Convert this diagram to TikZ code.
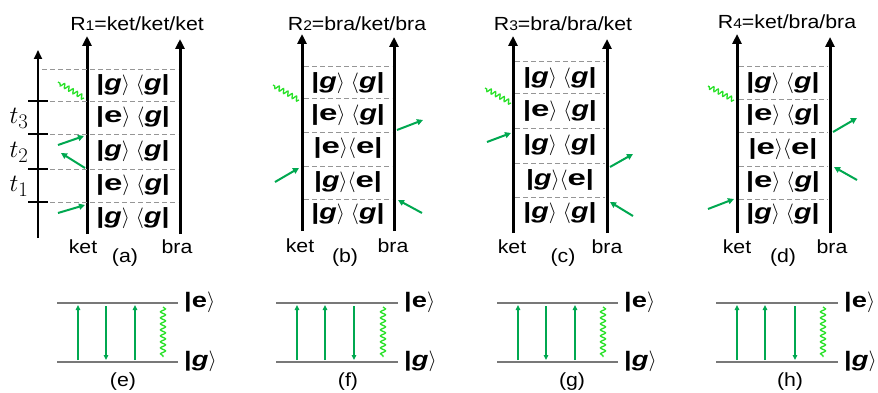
\documentclass[tikz,border=0pt]{standalone}
\usepackage{fontspec}
\setmainfont[FakeStretch=1.12]{Liberation Sans}
\newfontfamily\rowfont[FakeStretch=1.3]{Liberation Sans}
\newfontfamily\efont[FakeStretch=1.5]{Liberation Sans}
\usetikzlibrary{arrows.meta,decorations.pathmorphing}
\definecolor{grn}{RGB}{0,168,80}
\definecolor{lime}{RGB}{40,225,40}
\definecolor{dgray}{RGB}{150,150,150}
\definecolor{lgray}{RGB}{120,120,120}
\newcommand{\kbG}{\textit{g}}
\newcommand{\kbE}{{\efont e}}
\newcommand{\kbx}[3]{\textbf{|#1}\(\rangle\)#3\(\langle\)\textbf{#2|}}
\newcommand{\kbsp}{\hspace{6pt}}
\begin{document}
\begin{tikzpicture}[x=1pt,y=-1pt,
  axis/.style={line width=3pt,-{Triangle[length=10pt,width=9pt]}},
  taxis/.style={line width=2pt,-{Triangle[length=9pt,width=8pt]}},
  dashln/.style={dgray,line width=0.9pt,dash pattern=on 5pt off 3pt},
  rowtxt/.style={font=\rowfont\fontsize{22}{24}\selectfont,inner sep=0pt},
  lab/.style={font=\fontsize{19}{21}\selectfont,inner sep=0pt},
  title/.style={font=\fontsize{19}{21}\selectfont,inner sep=0pt},
  garrow/.style={grn,line width=2pt,-{Triangle[length=6pt,width=6pt]}},
  wavy/.style={lime,line width=1.3pt,decorate,decoration={snake,amplitude=2.2pt,segment length=5pt}},
  lvl/.style={lgray,line width=1.5pt},
  varrow/.style={grn,line width=1.6pt,-{Triangle[length=5pt,width=4.5pt]}},
  vwavy/.style={lime,line width=1.3pt,decorate,decoration={snake,amplitude=2.5pt,segment length=6pt}},
  lvltxt/.style={font=\rowfont\fontsize{21}{23}\selectfont\bfseries,inner sep=0pt,anchor=west},
  tlab/.style={font=\fontsize{28}{30}\selectfont,inner sep=0pt}
]
\useasboundingbox (0,0) rectangle (878,393);

% ================= panel (a)
\coordinate (ta0) at (38,238); \coordinate (ta1) at (38,50);
\draw[taxis] (ta0) -- (ta1);
\coordinate (ak0) at (87,234); \coordinate (ak1) at (87,36);
\coordinate (ab0) at (180,234); \coordinate (ab1) at (180,39);
\draw[axis] (ak0) -- (ak1);
\draw[axis] (ab0) -- (ab1);
\foreach \y [count=\i] in {69,101,134,169,202}{
  \coordinate (ad\i l) at (42,\y); \coordinate (ad\i r) at (178,\y);
  \draw[dashln] (ad\i l) -- (ad\i r);}
\foreach \y [count=\i] in {101,134,169,202}{
  \coordinate (tk\i l) at (28,\y); \coordinate (tk\i r) at (48,\y);
  \draw[line width=1.3pt] (tk\i l) -- (tk\i r);}
\node[tlab] (t3) at (19,118) {$t_3$};
\node[tlab] (t2) at (19,152) {$t_2$};
\node[tlab] (t1) at (19,186) {$t_1$};
\node[rowtxt] (ar1) at (133,85) {\kbx{\kbG}{\kbG}{\kbsp}};
\node[rowtxt] (ar2) at (133,117.5) {\kbx{\kbE}{\kbG}{\kbsp}};
\node[rowtxt] (ar3) at (133,151.5) {\kbx{\kbG}{\kbG}{\kbsp}};
\node[rowtxt] (ar4) at (133,185.5) {\kbx{\kbE}{\kbG}{\kbsp}};
\node[rowtxt] (ar5) at (133,218) {\kbx{\kbG}{\kbG}{\kbsp}};
\node[title] (R1) at (137,24) {R{\fontsize{14}{14}\selectfont 1}=ket/ket/ket};
\node[lab] (aket) at (83,247) {ket};
\node[lab] (abra) at (177,247) {bra};
\node[lab] (acap) at (125,258) {(a)};
\coordinate (ag1s) at (58,213); \coordinate (ag1e) at (85,205);
\coordinate (ag2s) at (85,168); \coordinate (ag2e) at (61,153);
\coordinate (ag3s) at (58,145); \coordinate (ag3e) at (84,136);
\coordinate (aw1) at (84,98); \coordinate (aw2) at (58,82);
\draw[garrow] (ag1s) -- (ag1e);
\draw[garrow] (ag2s) -- (ag2e);
\draw[garrow] (ag3s) -- (ag3e);
\draw[wavy] (aw1) -- (aw2);

% ================= panel (b)
\coordinate (bk0) at (302,231); \coordinate (bk1) at (302,34);
\coordinate (bb0) at (394,231); \coordinate (bb1) at (394,37);
\draw[axis] (bk0) -- (bk1);
\draw[axis] (bb0) -- (bb1);
\foreach \y [count=\i] in {66,98,132,166,199}{
  \coordinate (bd\i l) at (304,\y); \coordinate (bd\i r) at (392,\y);
  \draw[dashln] (bd\i l) -- (bd\i r);}
\node[rowtxt] (br1) at (348,83) {\kbx{\kbG}{\kbG}{\kbsp}};
\node[rowtxt] (br2) at (348,115) {\kbx{\kbE}{\kbG}{\kbsp}};
\node[rowtxt] (br3) at (348,148.5) {\kbx{\kbE}{\kbE}{}};
\node[rowtxt] (br4) at (348,182) {\kbx{\kbG}{\kbE}{}};
\node[rowtxt] (br5) at (348,214) {\kbx{\kbG}{\kbG}{\kbsp}};
\node[title] (R2) at (357,24) {R{\fontsize{14}{14}\selectfont 2}=bra/ket/bra};
\node[lab] (bket) at (300,246) {ket};
\node[lab] (bbra) at (393,246) {bra};
\node[lab] (bcap) at (345,258) {(b)};
\coordinate (bg1s) at (275,182); \coordinate (bg1e) at (299,168);
\coordinate (bg2s) at (422,213); \coordinate (bg2e) at (398,200);
\coordinate (bg3s) at (397,130); \coordinate (bg3e) at (423,120);
\coordinate (bw1) at (299,100); \coordinate (bw2) at (273,85);
\draw[garrow] (bg1s) -- (bg1e);
\draw[garrow] (bg2s) -- (bg2e);
\draw[garrow] (bg3s) -- (bg3e);
\draw[wavy] (bw1) -- (bw2);

% ================= panel (c)
\coordinate (ck0) at (513,233); \coordinate (ck1) at (513,36);
\coordinate (cb0) at (607,233); \coordinate (cb1) at (607,39);
\draw[axis] (ck0) -- (ck1);
\draw[axis] (cb0) -- (cb1);
\foreach \y [count=\i] in {61,93,128,163,197}{
  \coordinate (cd\i l) at (515,\y); \coordinate (cd\i r) at (605,\y);
  \draw[dashln] (cd\i l) -- (cd\i r);}
\node[rowtxt] (cr1) at (560,78) {\kbx{\kbG}{\kbG}{\kbsp}};
\node[rowtxt] (cr2) at (560,111) {\kbx{\kbE}{\kbG}{\kbsp}};
\node[rowtxt] (cr3) at (560,145) {\kbx{\kbG}{\kbG}{\kbsp}};
\node[rowtxt] (cr4) at (560,180) {\kbx{\kbG}{\kbE}{}};
\node[rowtxt] (cr5) at (560,213) {\kbx{\kbG}{\kbG}{\kbsp}};
\node[title] (R3) at (563,24) {R{\fontsize{14}{14}\selectfont 3}=bra/bra/ket};
\node[lab] (cket) at (512,247) {ket};
\node[lab] (cbra) at (607,247) {bra};
\node[lab] (ccap) at (563,258) {(c)};
\coordinate (cg1s) at (487,142); \coordinate (cg1e) at (511,133);
\coordinate (cg2s) at (633,216); \coordinate (cg2e) at (610,202);
\coordinate (cg3s) at (610,167); \coordinate (cg3e) at (633,154);
\coordinate (cw1) at (511,103); \coordinate (cw2) at (485,88);
\draw[garrow] (cg1s) -- (cg1e);
\draw[garrow] (cg2s) -- (cg2e);
\draw[garrow] (cg3s) -- (cg3e);
\draw[wavy] (cw1) -- (cw2);

% ================= panel (d)
\coordinate (dk0) at (737,233); \coordinate (dk1) at (737,34);
\coordinate (db0) at (830,233); \coordinate (db1) at (830,37);
\draw[axis] (dk0) -- (dk1);
\draw[axis] (db0) -- (db1);
\foreach \y [count=\i] in {66,99,132,166,199}{
  \coordinate (dd\i l) at (739,\y); \coordinate (dd\i r) at (828,\y);
  \draw[dashln] (dd\i l) -- (dd\i r);}
\node[rowtxt] (dr1) at (783,83) {\kbx{\kbG}{\kbG}{\kbsp}};
\node[rowtxt] (dr2) at (783,115.5) {\kbx{\kbE}{\kbG}{\kbsp}};
\node[rowtxt] (dr3) at (783,149) {\kbx{\kbE}{\kbE}{}};
\node[rowtxt] (dr4) at (783,182) {\kbx{\kbE}{\kbG}{\kbsp}};
\node[rowtxt] (dr5) at (783,214) {\kbx{\kbG}{\kbG}{\kbsp}};
\node[title] (R4) at (787,22) {R{\fontsize{14}{14}\selectfont 4}=ket/bra/bra};
\node[lab] (dket) at (737,247) {ket};
\node[lab] (dbra) at (832,247) {bra};
\node[lab] (dcap) at (783,258) {(d)};
\coordinate (dg1s) at (708,209); \coordinate (dg1e) at (734,199);
\coordinate (dg2s) at (857,180); \coordinate (dg2e) at (834,167);
\coordinate (dg3s) at (833,132); \coordinate (dg3e) at (857,118);
\coordinate (dw1) at (734,100); \coordinate (dw2) at (708,86);
\draw[garrow] (dg1s) -- (dg1e);
\draw[garrow] (dg2s) -- (dg2e);
\draw[garrow] (dg3s) -- (dg3e);
\draw[wavy] (dw1) -- (dw2);

% ================= bottom level diagrams
% (e)
\coordinate (eT0) at (57,303); \coordinate (eT1) at (178,303);
\coordinate (eB0) at (57,362); \coordinate (eB1) at (178,362);
\draw[lvl] (eT0) -- (eT1); \draw[lvl] (eB0) -- (eB1);
\node[lvltxt] (ee) at (184,302) {|e\(\rangle\)};
\node[lvltxt] (eg) at (184,361) {|\textit{g}\(\rangle\)};
\node[lab] (ecap) at (123,382) {(e)};
\draw[varrow] (78,360) -- (78,305);
\draw[varrow] (106,306) -- (106,360);
\draw[varrow] (135,360) -- (135,305);
\draw[vwavy] (163,307) -- (163,357);
% (f)
\coordinate (fT0) at (276,303); \coordinate (fT1) at (398,303);
\coordinate (fB0) at (276,362); \coordinate (fB1) at (398,362);
\draw[lvl] (fT0) -- (fT1); \draw[lvl] (fB0) -- (fB1);
\node[lvltxt] (fe) at (404,302) {|e\(\rangle\)};
\node[lvltxt] (fg) at (404,361) {|\textit{g}\(\rangle\)};
\node[lab] (fcap) at (348,382) {(f)};
\draw[varrow] (297,360) -- (297,305);
\draw[varrow] (325,360) -- (325,305);
\draw[varrow] (354,306) -- (354,360);
\draw[vwavy] (383,307) -- (383,357);
% (g)
\coordinate (gT0) at (497,303); \coordinate (gT1) at (618,303);
\coordinate (gB0) at (497,362); \coordinate (gB1) at (618,362);
\draw[lvl] (gT0) -- (gT1); \draw[lvl] (gB0) -- (gB1);
\node[lvltxt] (ge) at (624,302) {|e\(\rangle\)};
\node[lvltxt] (gg) at (624,361) {|\textit{g}\(\rangle\)};
\node[lab] (gcap) at (572,382) {(g)};
\draw[varrow] (518,360) -- (518,305);
\draw[varrow] (546,306) -- (546,360);
\draw[varrow] (575,360) -- (575,305);
\draw[vwavy] (603,307) -- (603,357);
% (h)
\coordinate (hT0) at (716,303); \coordinate (hT1) at (838,303);
\coordinate (hB0) at (716,362); \coordinate (hB1) at (838,362);
\draw[lvl] (hT0) -- (hT1); \draw[lvl] (hB0) -- (hB1);
\node[lvltxt] (he) at (844,302) {|e\(\rangle\)};
\node[lvltxt] (hg) at (844,361) {|\textit{g}\(\rangle\)};
\node[lab] (hcap) at (790,382) {(h)};
\draw[varrow] (737,360) -- (737,305);
\draw[varrow] (765,360) -- (765,305);
\draw[varrow] (795,306) -- (795,360);
\draw[vwavy] (823,307) -- (823,357);
\end{tikzpicture}
\end{document}
